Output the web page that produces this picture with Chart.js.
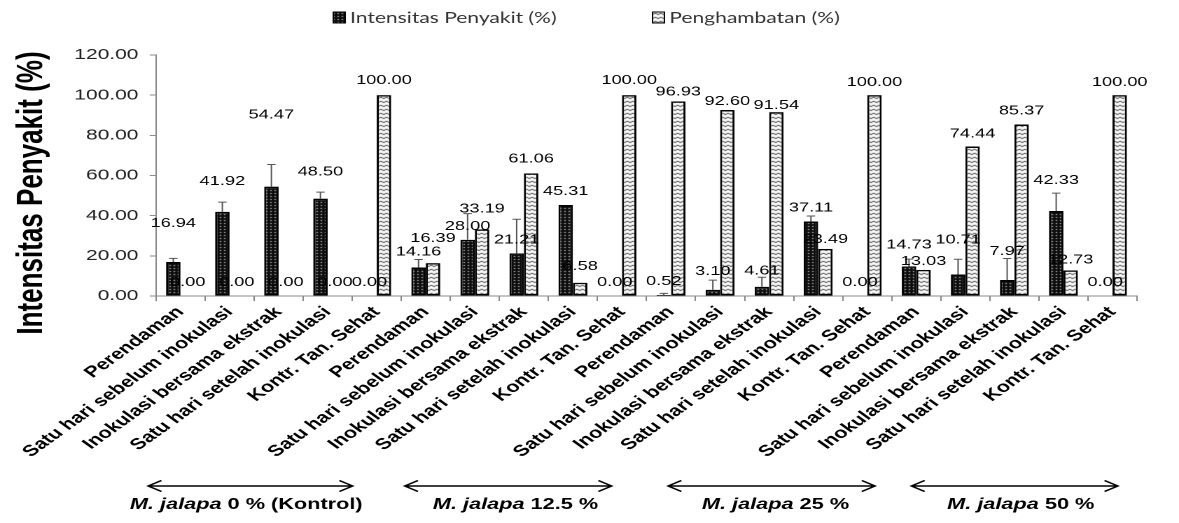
<!DOCTYPE html>
<html>
<head>
<meta charset="utf-8">
<title>Intensitas Penyakit dan Penghambatan</title>
<script src="https://cdn.jsdelivr.net/npm/chart.js@4/dist/chart.umd.min.js"></script>
<style>
  html, body { margin: 0; padding: 0; background: #fff; }
  #wrap { width: 1179px; height: 523px; overflow: hidden; }
  /* the chart is drawn on a narrower canvas and shown stretched across the page width */
  #chart { display: block; width: 1179px !important; height: 523px !important; }
</style>
</head>
<body>
<div id="wrap"><canvas id="chart" width="842" height="523" style="width:1179px;height:523px;display:block"></canvas></div>
<script>
// Treatments repeated for each extract concentration
const treatments = ['Perendaman', 'Satu hari sebelum inokulasi', 'Inokulasi bersama ekstrak', 'Satu hari setelah inokulasi', 'Kontr. Tan. Sehat'];
const groups = ['0 % (Kontrol)', '12.5 %', '25 %', '50 %'];
const categories = groups.flatMap(() => treatments);

// Intensitas Penyakit (%) with its standard error
const intensitas = [16.94, 41.92, 54.47, 48.50, 0.00,
                    14.16, 28.00, 21.21, 45.31, 0.00,
                    0.52, 3.10, 4.61, 37.11, 0.00,
                    14.73, 10.71, 7.97, 42.33, 0.00];
const intensitasErr = [1.8, 4.8, 11.0, 3.2, 0,
                       4.0, 13.0, 17.0, 0, 0,
                       0.8, 4.8, 4.7, 2.7, 0,
                       3.6, 7.6, 10.7, 8.9, 0];

// Penghambatan (%)
const penghambatan = [0.00, 0.00, 0.00, 0.00, 100.00,
                      16.39, 33.19, 61.06, 6.58, 100.00,
                      96.93, 92.60, 91.54, 23.49, 100.00,
                      13.03, 74.44, 85.37, 12.73, 100.00];

const yTicks = { min: 0, max: 120, step: 20 };
const yTitle = 'Intensitas Penyakit (%)';

// extra upward nudge (px) for value labels that sit higher than the default spot
const labelLiftI = [25, 17, 58, 13, 0,  2, 0, 0, 0, 0,  0, 5, 2, 0, 0,  8, 21, 15, 17, 0];
const labelLiftP = [0, 0, 0, 0, 1,  11, 7, 1, 3, 1,  -4, -5, -7, -4, -1,  -5, -1, 0, -3, -1];

// group brackets along the bottom, in category units
const groupSpans = [[-0.66, 3.51], [4.57, 8.79], [9.94, 14.16], [14.9, 19.11]];
const groupCenters = [1.34, 6.83, 12.13, 17.13];

const FONT = '"Liberation Sans", Arial, sans-serif';

function dotPattern() {
  const c = document.createElement('canvas');
  c.width = 3; c.height = 3;
  const g = c.getContext('2d');
  g.fillStyle = '#0d0d0d';
  g.fillRect(0, 0, 3, 3);
  g.fillStyle = '#cfcfcf';
  g.fillRect(1, 1, 1, 1);
  return g.createPattern(c, 'repeat');
}

function wavePattern() {
  const c = document.createElement('canvas');
  c.width = 4; c.height = 4;
  const g = c.getContext('2d');
  g.fillStyle = '#fff';
  g.fillRect(0, 0, 4, 4);
  g.strokeStyle = '#000';
  g.lineWidth = 0.9;
  g.beginPath();
  g.moveTo(0, 0.8); g.lineTo(2, 2.8); g.lineTo(4, 0.8);
  g.stroke();
  return g.createPattern(c, 'repeat');
}

const fillI = dotPattern();
const fillP = wavePattern();

const errorBars = {
  id: 'errorBars',
  afterDatasetsDraw(chart) {
    const { ctx } = chart;
    const meta = chart.getDatasetMeta(0);
    const y = chart.scales.y;
    ctx.save();
    ctx.strokeStyle = '#555';
    ctx.lineWidth = 1;
    meta.data.forEach((bar, i) => {
      const e = intensitasErr[i];
      if (!e) return;
      const top = y.getPixelForValue(intensitas[i] + e);
      ctx.beginPath();
      ctx.moveTo(bar.x, bar.y);
      ctx.lineTo(bar.x, top);
      ctx.moveTo(bar.x - 3, top);
      ctx.lineTo(bar.x + 3, top);
      ctx.stroke();
    });
    ctx.restore();
  }
};

const valueLabels = {
  id: 'valueLabels',
  afterDatasetsDraw(chart) {
    const { ctx } = chart;
    const lifts = [labelLiftI, labelLiftP];
    ctx.save();
    ctx.font = '13px ' + FONT;
    ctx.fillStyle = '#000';
    ctx.textAlign = 'center';
    ctx.textBaseline = 'alphabetic';
    chart.data.datasets.forEach((ds, di) => {
      chart.getDatasetMeta(di).data.forEach((bar, i) => {
        ctx.fillText(ds.data[i].toFixed(2), bar.x, bar.y - 10 - lifts[di][i]);
      });
    });
    ctx.restore();
  }
};

const topLegend = {
  id: 'topLegend',
  afterDraw(chart) {
    const { ctx } = chart;
    const items = [
      { text: chart.data.datasets[0].label, fill: fillI, x: 238 },
      { text: chart.data.datasets[1].label, fill: fillP, x: 466 }
    ];
    ctx.save();
    ctx.font = '15px Lato, "Open Sans", sans-serif';
    ctx.textBaseline = 'middle';
    ctx.textAlign = 'left';
    items.forEach(it => {
      ctx.fillStyle = it.fill;
      ctx.fillRect(it.x, 12, 8.5, 11);
      ctx.strokeStyle = '#000';
      ctx.lineWidth = 1;
      ctx.strokeRect(it.x, 12, 8.5, 11);
      ctx.fillStyle = '#333';
      ctx.fillText(it.text, it.x + 12, 18);
    });
    ctx.restore();
  }
};

const axisTitle = {
  id: 'axisTitle',
  afterDraw(chart) {
    const { ctx } = chart;
    ctx.save();
    ctx.translate(23, 193);
    ctx.rotate(-Math.PI / 2);
    ctx.font = 'bold 26px ' + FONT;
    ctx.fillStyle = '#000';
    ctx.textAlign = 'center';
    ctx.textBaseline = 'middle';
    ctx.fillText(yTitle, 0, 0);
    ctx.restore();
  }
};

const groupBrackets = {
  id: 'groupBrackets',
  afterDraw(chart) {
    const { ctx } = chart;
    const x = chart.scales.x;
    const yA = 486, yT = 509;
    ctx.save();
    ctx.strokeStyle = '#000';
    ctx.fillStyle = '#000';
    ctx.lineWidth = 1.4;
    groupSpans.forEach(([a, b], gi) => {
      const x1 = x.getPixelForValue(a), x2 = x.getPixelForValue(b);
      ctx.beginPath();
      ctx.moveTo(x1, yA); ctx.lineTo(x2, yA);
      ctx.moveTo(x1 + 9.5, yA - 5.5); ctx.lineTo(x1, yA); ctx.lineTo(x1 + 9.5, yA + 5.5);
      ctx.moveTo(x2 - 9.5, yA - 5.5); ctx.lineTo(x2, yA); ctx.lineTo(x2 - 9.5, yA + 5.5);
      ctx.stroke();

      const italic = 'M. jalapa ';
      const rest = groups[gi];
      const fI = 'italic bold 15.5px ' + FONT;
      const fR = 'bold 15.5px ' + FONT;
      ctx.font = fI; const wI = ctx.measureText(italic).width;
      ctx.font = fR; const wR = ctx.measureText(rest).width;
      const cx = x.getPixelForValue(groupCenters[gi]);
      const sx = cx - (wI + wR) / 2;
      ctx.textAlign = 'left';
      ctx.textBaseline = 'alphabetic';
      ctx.font = fI; ctx.fillText(italic, sx, yT);
      ctx.font = fR; ctx.fillText(rest, sx + wI, yT);
    });
    ctx.restore();
  }
};

new Chart(document.getElementById('chart'), {
  type: 'bar',
  data: {
    labels: categories,
    datasets: [
      {
        label: 'Intensitas Penyakit (%)',
        data: intensitas,
        backgroundColor: fillI,
        borderColor: '#000',
        borderWidth: 1.5,
        borderSkipped: false
      },
      {
        label: 'Penghambatan (%)',
        data: penghambatan,
        backgroundColor: fillP,
        borderColor: '#000',
        borderWidth: 1.5,
        borderSkipped: false
      }
    ]
  },
  options: {
    responsive: false,
    devicePixelRatio: 2,
    animation: false,
    layout: { padding: { top: 55, right: 30, bottom: 0, left: 0 } },
    datasets: { bar: { categoryPercentage: 0.59, barPercentage: 1.0 } },
    plugins: {
      legend: { display: false },
      tooltip: { enabled: false }
    },
    scales: {
      x: {
        offset: true,
        grid: { display: true, offset: true, drawOnChartArea: false, tickLength: 5, color: '#888' },
        border: { color: '#888', width: 1 },
        ticks: {
          autoSkip: false,
          minRotation: 45,
          maxRotation: 45,
          padding: 2,
          color: '#000',
          font: { family: FONT, size: 15.5, weight: 'bold' }
        },
        afterFit(s) { s.height = 227; }
      },
      y: {
        min: yTicks.min,
        max: yTicks.max,
        grid: { display: true, drawOnChartArea: false, tickLength: 4.5, color: '#888' },
        border: { color: '#888', width: 1 },
        ticks: {
          stepSize: yTicks.step,
          padding: 8,
          color: '#222',
          font: { family: FONT, size: 15 },
          callback: v => Number(v).toFixed(2)
        },
        title: { display: false },
        afterFit(s) { s.width = 111.4; }
      }
    }
  },
  plugins: [errorBars, valueLabels, topLegend, axisTitle, groupBrackets]
});
</script>
</body>
</html>
